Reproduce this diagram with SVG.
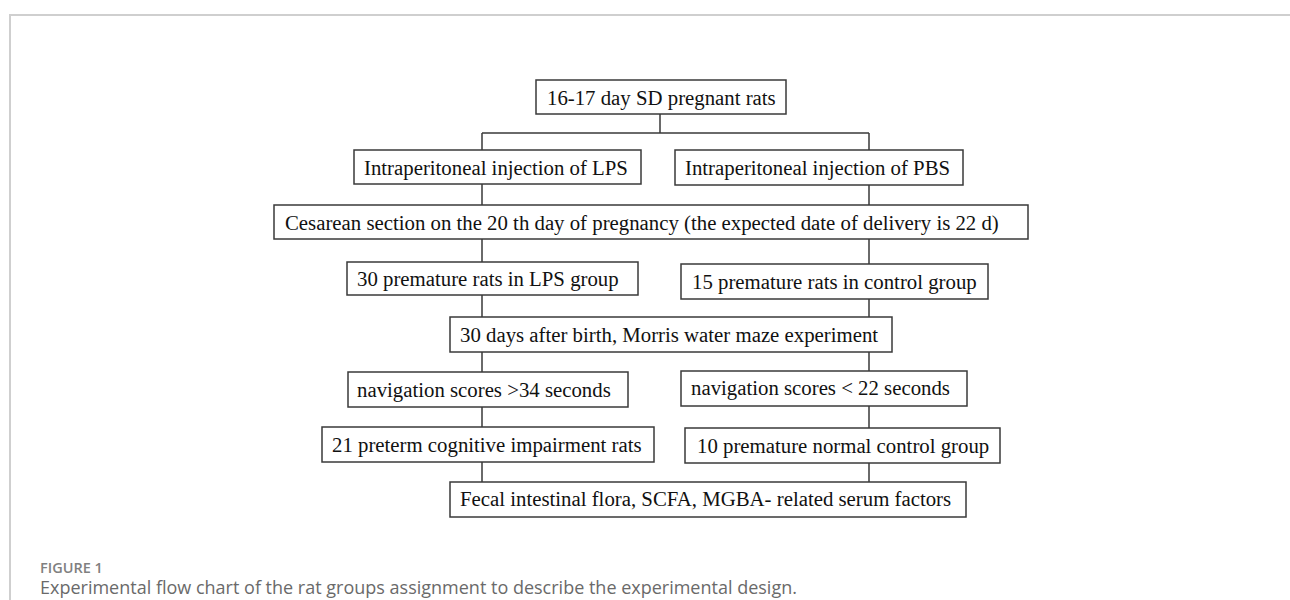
<svg xmlns="http://www.w3.org/2000/svg" width="1290" height="600" viewBox="0 0 1290 600">
<style>
.box{fill:#fff;stroke:#3a3a3a;stroke-width:1.5}
.t{font-family:"Liberation Serif","Times New Roman",serif;font-size:20.8px;fill:#111}
.c{fill:none;stroke:#3a3a3a;stroke-width:1.5}
.frame{fill:none;stroke:#cfcfcf;stroke-width:2}
</style>
<rect width="1290" height="600" fill="#fff"/>
<path class="frame" d="M10 600 V15 H1290"/>
<g id="connectors">
<path class="c" d="M660 114 V133 M482 133 H869 M482 133 V150 M869 133 V150"/>
<path class="c" d="M482 184 V205 M869 185 V205"/>
<path class="c" d="M482 239 V262 M869 239 V264"/>
<path class="c" d="M482 295 V317 M869 299 V317"/>
<path class="c" d="M482 352 V372 M869 352 V371"/>
<path class="c" d="M482 407 V427 M869 406 V428"/>
<path class="c" d="M482 462 V482 M869 463 V482"/>
</g>
<g id="n1"><rect class="box" x="536" y="80" width="250" height="34"/><text class="t" x="547" y="104.5">16-17 day SD pregnant rats</text></g>
<g id="n2"><rect class="box" x="354" y="150" width="287" height="34"/><text class="t" x="364" y="174.5">Intraperitoneal injection of LPS</text></g>
<g id="n3"><rect class="box" x="675" y="150" width="288" height="35"/><text class="t" x="685" y="174.5">Intraperitoneal injection of PBS</text></g>
<g id="n4"><rect class="box" x="274" y="205" width="754" height="34"/><text class="t" x="285" y="230">Cesarean section on the 20 th day of pregnancy (the expected date of delivery is 22 d)</text></g>
<g id="n5"><rect class="box" x="347" y="262" width="291" height="33"/><text class="t" x="357" y="286">30 premature rats in LPS group</text></g>
<g id="n6"><rect class="box" x="681" y="264" width="307" height="35"/><text class="t" x="692" y="289">15 premature rats in control group</text></g>
<g id="n7"><rect class="box" x="450" y="317" width="442" height="35"/><text class="t" x="460" y="341.5">30 days after birth, Morris water maze experiment</text></g>
<g id="n8"><rect class="box" x="348" y="372" width="280" height="35"/><text class="t" x="357" y="396.5">navigation scores &gt;34 seconds</text></g>
<g id="n9"><rect class="box" x="681" y="371" width="286" height="35"/><text class="t" x="691" y="395">navigation scores &lt; 22 seconds</text></g>
<g id="n10"><rect class="box" x="322" y="427" width="332" height="35"/><text class="t" x="332" y="451.5">21 preterm cognitive impairment rats</text></g>
<g id="n11"><rect class="box" x="685" y="428" width="315" height="35"/><text class="t" x="697" y="452.5">10 premature normal control group</text></g>
<g id="n12"><rect class="box" x="450" y="482" width="516" height="35"/><text class="t" x="460" y="506">Fecal intestinal flora, SCFA, MGBA- related serum factors</text></g>
<g id="caption">
<text x="40" y="573" font-family="'Open Sans',sans-serif" font-size="14.5" font-weight="600" fill="#808080">FIGURE 1</text>
<text x="40" y="594" font-family="'Open Sans',sans-serif" font-size="18" fill="#6a6a6a">Experimental flow chart of the rat groups assignment to describe the experimental design.</text>
</g>
</svg>
